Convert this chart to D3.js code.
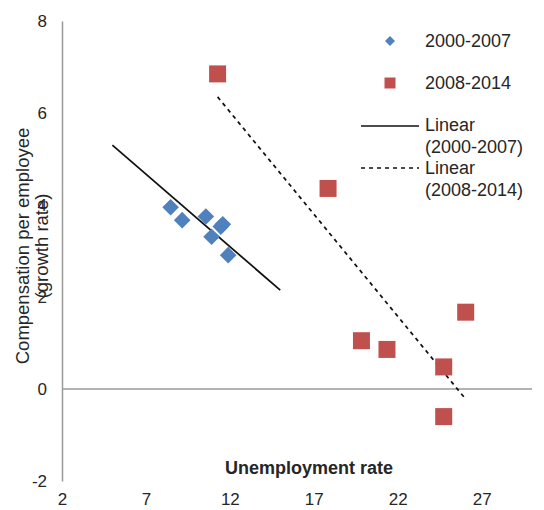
<!DOCTYPE html>
<html>
<head>
<meta charset="utf-8">
<script src="https://cdn.jsdelivr.net/npm/d3@7"></script>
<style>
  html, body { margin: 0; padding: 0; background: #fff; }
  svg { display: block; font-family: "Liberation Sans", Arial, sans-serif; }
</style>
</head>
<body>
<svg id="chart" width="544" height="510"></svg>
<script>
// ---- Data ----
const seriesNames = ["2000-2007", "2008-2014"];
const trendNames = [["Linear", "(2000-2007)"], ["Linear", "(2008-2014)"]];

// 2000-2007: unemployment rate (x) vs compensation growth (y)
const unemp2000 = [8.47, 9.16, 10.57, 11.46, 11.58, 10.91, 11.90];
const comp2000  = [3.95, 3.67, 3.75, 3.53, 3.58, 3.31, 2.91];

// 2008-2014
const unemp2008 = [11.27, 17.85, 19.84, 21.36, 24.74, 24.74, 26.05];
const comp2008  = [6.85, 4.36, 1.05, 0.86, 0.48, -0.60, 1.67];

// Linear trend lines (endpoints as drawn)
const trendX2000 = [5.0, 15.0];
const trendY2000 = [5.30, 2.15];
const trendX2008 = [11.27, 26.05];
const trendY2008 = [6.35, -0.22];

const xTicks = [2, 7, 12, 17, 22, 27];
const yTicks = [-2, 0, 2, 4, 6, 8];
const xDomain = [2, 30];
const yDomain = [-2, 8];

const xTitle = "Unemployment rate";
const yTitle = ["Compensation per employee", "(growth rate)"];

// ---- Drawing ----
const svg = d3.select("#chart");
const x = d3.scaleLinear().domain(xDomain).range([62, 532]);
const y = d3.scaleLinear().domain(yDomain).range([481, 21]);

const blue = "#4F81BD", red = "#C0504D", axisGray = "#9a9a9a", textCol = "#262626";
const fmt = d => String(d);

// Y axis
const yAxis = svg.append("g")
  .attr("transform", `translate(${x(xDomain[0])},0)`)
  .call(d3.axisLeft(y).tickValues(yTicks).tickSize(0).tickPadding(15).tickFormat(fmt));
yAxis.select(".domain").attr("stroke", axisGray).attr("stroke-width", 1.5);
yAxis.selectAll("text").attr("font-size", 17).attr("fill", textCol)
  .attr("font-family", "Liberation Sans, Arial, sans-serif");

// Zero line (horizontal axis line)
svg.append("line")
  .attr("x1", x(xDomain[0])).attr("x2", x(xDomain[1]))
  .attr("y1", y(0)).attr("y2", y(0))
  .attr("stroke", axisGray).attr("stroke-width", 1.5);

// X axis labels (low position)
const xAxis = svg.append("g")
  .attr("transform", `translate(0,${y(yDomain[0])})`)
  .call(d3.axisBottom(x).tickValues(xTicks).tickSize(0).tickPadding(12).tickFormat(fmt));
xAxis.select(".domain").remove();
xAxis.selectAll("text").attr("font-size", 17).attr("fill", textCol)
  .attr("font-family", "Liberation Sans, Arial, sans-serif");

// Axis titles
svg.append("text")
  .attr("x", 309).attr("y", 474)
  .attr("text-anchor", "middle")
  .attr("font-size", 18).attr("font-weight", "bold").attr("fill", textCol)
  .text(xTitle);

const yt = svg.append("text")
  .attr("transform", "translate(29,246) rotate(-90)")
  .attr("text-anchor", "middle")
  .attr("font-size", 18.5).attr("fill", textCol);
yTitle.forEach((t, i) => {
  yt.append("tspan").attr("x", 0).attr("dy", i === 0 ? 0 : 19).text(t);
});

// Trend lines
const line = d3.line().x(d => x(d[0])).y(d => y(d[1]));
svg.append("path")
  .attr("d", line(d3.zip(trendX2000, trendY2000)))
  .attr("fill", "none").attr("stroke", "#111").attr("stroke-width", 1.75);
svg.append("path")
  .attr("d", line(d3.zip(trendX2008, trendY2008)))
  .attr("fill", "none").attr("stroke", "#111").attr("stroke-width", 1.75)
  .attr("stroke-dasharray", "4,4");

// Markers
const diamond = d3.symbol().type(d3.symbolSquare).size(138);
svg.append("g").selectAll("path")
  .data(d3.zip(unemp2000, comp2000))
  .join("path")
  .attr("d", diamond)
  .attr("transform", d => `translate(${x(d[0])},${y(d[1])}) rotate(45)`)
  .attr("fill", blue);

const square = d3.symbol().type(d3.symbolSquare).size(289);
svg.append("g").selectAll("path")
  .data(d3.zip(unemp2008, comp2008))
  .join("path")
  .attr("d", square)
  .attr("transform", d => `translate(${x(d[0])},${y(d[1])})`)
  .attr("fill", red);

// Legend
const lg = svg.append("g").attr("font-size", 18).attr("fill", textCol);
lg.append("path")
  .attr("d", d3.symbol().type(d3.symbolSquare).size(50)())
  .attr("transform", "translate(390,41) rotate(45)")
  .attr("fill", blue);
lg.append("text").attr("x", 425).attr("y", 41).attr("dy", "0.35em").text(seriesNames[0]);

lg.append("path")
  .attr("d", d3.symbol().type(d3.symbolSquare).size(121)())
  .attr("transform", "translate(390,83)")
  .attr("fill", red);
lg.append("text").attr("x", 425).attr("y", 83).attr("dy", "0.35em").text(seriesNames[1]);

lg.append("line").attr("x1", 361).attr("x2", 419).attr("y1", 126).attr("y2", 126)
  .attr("stroke", "#111").attr("stroke-width", 1.5);
lg.append("text").attr("x", 425).attr("y", 125).attr("dy", "0.35em").text(trendNames[0][0]);
lg.append("text").attr("x", 425).attr("y", 147).attr("dy", "0.35em").text(trendNames[0][1]);

lg.append("line").attr("x1", 361).attr("x2", 419).attr("y1", 168).attr("y2", 168)
  .attr("stroke", "#111").attr("stroke-width", 1.5).attr("stroke-dasharray", "4,4");
lg.append("text").attr("x", 425).attr("y", 168).attr("dy", "0.35em").text(trendNames[1][0]);
lg.append("text").attr("x", 425).attr("y", 190).attr("dy", "0.35em").text(trendNames[1][1]);
</script>
</body>
</html>
